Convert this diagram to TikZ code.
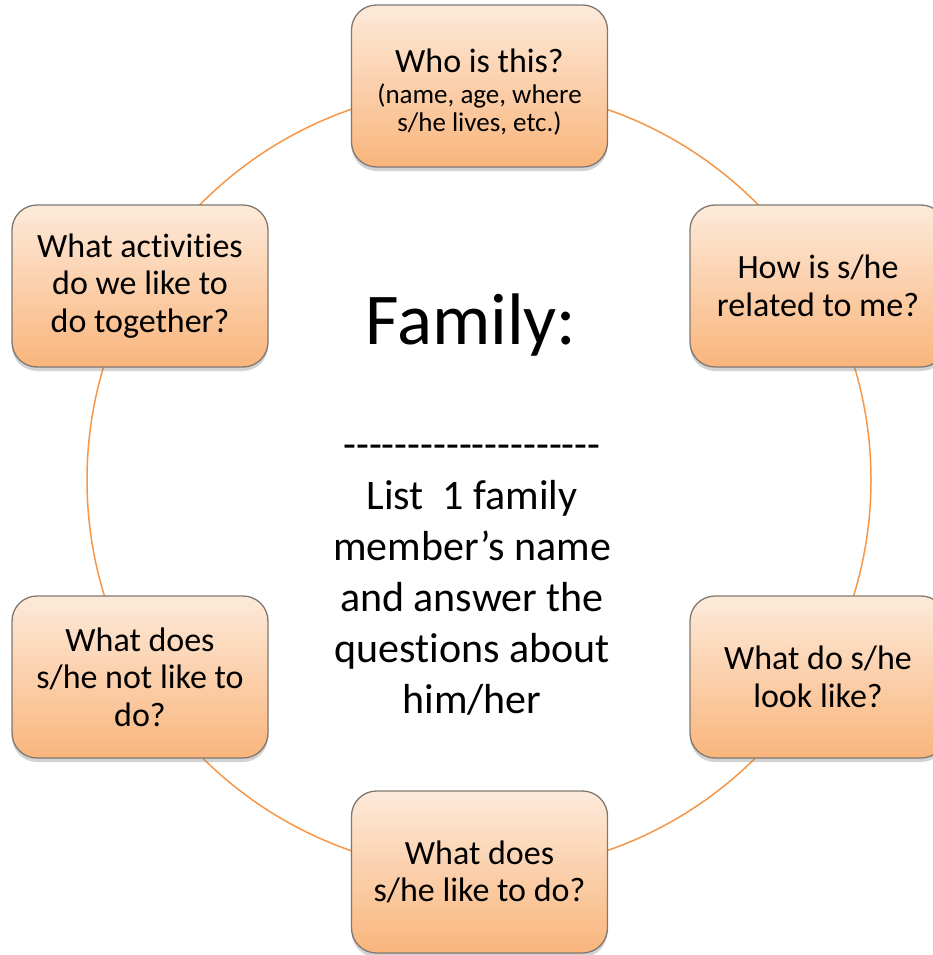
\documentclass[tikz,border=0pt]{standalone}
\usepackage{fontspec}
\setmainfont{Carlito}[Ligatures={TeX,NoCommon}]
\usetikzlibrary{shadows}
\definecolor{ringorange}{RGB}{247,150,70}
\definecolor{boxtop}{RGB}{253,234,218}
\definecolor{boxbottom}{RGB}{249,181,124}
\definecolor{boxedge}{RGB}{128,120,112}
\newcommand\hy{-\kern0pt}
\newcommand\tI{t\kern0pt i}
\newcommand\dashrow{\hy\hy\hy\hy\hy\hy\hy\hy\hy\hy\hy\hy\hy\hy\hy\hy\hy\hy\hy\hy}
\tikzset{
  qbox/.style={rounded corners=25pt, draw=boxedge, line width=1.3pt,
    top color=boxtop, bottom color=boxbottom,
    drop shadow={shadow xshift=0pt, shadow yshift=-4pt, opacity=0.35},
    minimum width=256pt, minimum height=162pt, inner sep=0pt, align=center,
    font=\fontsize{34}{37.5}\selectfont},
  ring/.style={draw=ringorange, line width=1.5pt},
  bigtitle/.style={font=\fontsize{73}{80}\selectfont, inner sep=0pt},
  bodytext/.style={font=\fontsize{42}{51}\selectfont, align=center, inner sep=0pt}
}
\begin{document}
\begin{tikzpicture}[x=1pt,y=-1pt]
\clip (0,0) rectangle (933,955);
\fill[white] (0,0) rectangle (933,955);
\coordinate (ctr) at (479,480);
\draw[ring] (ctr) circle[radius=392pt];
\node[qbox] (who) at (479.5,86) {\rule{0pt}{36pt}Who is this?\\[-7pt]{\fontsize{27}{29}\selectfont (name, age, where}\\[-9pt]{\fontsize{27}{29}\selectfont s/he lives, etc.)}};
\node[qbox] (rel) at (818,286) {How is s/he\\related to me?};
\node[qbox] (look) at (818,677) {What do s/he\\look like?};
\node[qbox] (like) at (479.5,872) {What does\\s/he like to do?};
\node[qbox] (notlike) at (140,677) {What does\\s/he not like to\\do?};
\node[qbox] (act) at (140,286) {What ac\tI vi\tI es\\do we like to\\do together?};
\node[bigtitle, anchor=base] (fam) at (471,344) {Family:};
\node[bodytext, anchor=base] (list) at (472,713) {\dashrow\\List\ \ 1 family\\member’s name\\and answer the\\ques\tI ons about\\him/her};
\end{tikzpicture}
\end{document}
